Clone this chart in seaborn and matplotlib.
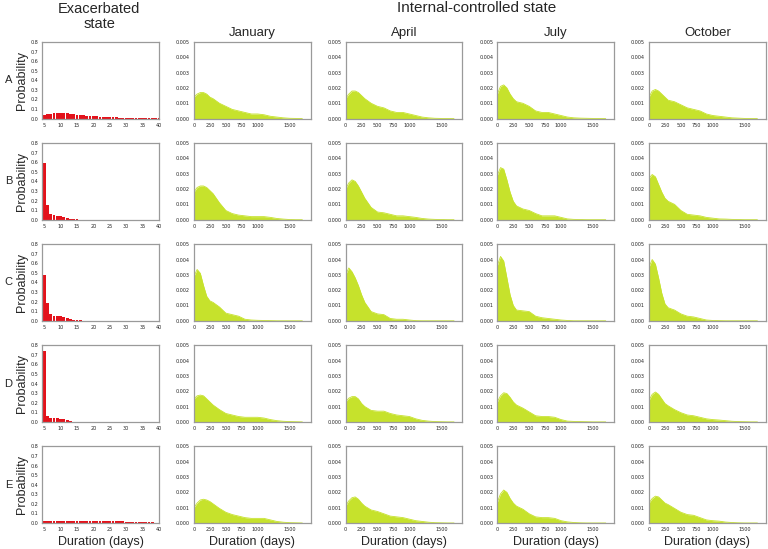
import numpy as np
import pandas as pd
import matplotlib
matplotlib.use('Agg')
import matplotlib.pyplot as plt
import seaborn as sns

sns.set_style('white')
plt.rcParams['font.family'] = ['Liberation Sans', 'DejaVu Sans']

rows = ['A', 'B', 'C', 'D', 'E']
months = ['January', 'April', 'July', 'October']

# exacerbated state: probability of each duration (days)
exa_days = list(range(5, 41))
exa_A = [0.035, 0.045, 0.05, 0.055, 0.06, 0.06, 0.06, 0.055, 0.05, 0.045, 0.04, 0.037,
         0.033, 0.03, 0.028, 0.025, 0.022, 0.02, 0.018, 0.016, 0.014, 0.013, 0.012, 0.011,
         0.01, 0.009, 0.008, 0.007, 0.006, 0.005, 0.004, 0.003, 0.002, 0.002, 0.001, 0.001]
exa_B = [0.59, 0.15, 0.055, 0.045, 0.04, 0.035, 0.03, 0.02, 0.01, 0.005, 0.002, 0.001,
         0, 0, 0, 0, 0, 0, 0, 0, 0, 0, 0, 0, 0, 0, 0, 0, 0, 0, 0, 0, 0, 0, 0, 0]
exa_C = [0.48, 0.19, 0.07, 0.055, 0.045, 0.045, 0.04, 0.03, 0.02, 0.01, 0.005, 0.003,
         0.002, 0.001, 0, 0, 0, 0, 0, 0, 0, 0, 0, 0, 0, 0, 0, 0, 0, 0, 0, 0, 0, 0, 0, 0]
exa_D = [0.74, 0.065, 0.045, 0.04, 0.04, 0.035, 0.03, 0.02, 0.01, 0.003, 0.001, 0,
         0, 0, 0, 0, 0, 0, 0, 0, 0, 0, 0, 0, 0, 0, 0, 0, 0, 0, 0, 0, 0, 0, 0, 0]
exa_E = [0.025, 0.025, 0.025, 0.025, 0.025, 0.025, 0.025, 0.025, 0.025, 0.024, 0.024, 0.024,
         0.023, 0.023, 0.023, 0.022, 0.022, 0.022, 0.021, 0.021, 0.02, 0.019, 0.018, 0.017,
         0.016, 0.015, 0.013, 0.012, 0.011, 0.01, 0.008, 0.007, 0.006, 0.005, 0.004, 0.003]
exa = {'A': exa_A, 'B': exa_B, 'C': exa_C, 'D': exa_D, 'E': exa_E}

# internal-controlled state: density (x 1e-3) read at these durations
grid_days = [0, 50, 100, 150, 200, 250, 300, 400, 500, 600, 700, 800, 900, 1000,
             1100, 1200, 1300, 1400, 1500, 1600, 1700]
dens_A = {
    'January': [1.4, 1.6, 1.7, 1.7, 1.6, 1.4, 1.3, 1.0, 0.8, 0.6, 0.5, 0.4, 0.3, 0.3, 0.25, 0.15, 0.1, 0.05, 0.02, 0.01, 0],
    'April':   [1.3, 1.6, 1.8, 1.8, 1.7, 1.5, 1.3, 1.0, 0.8, 0.7, 0.5, 0.4, 0.4, 0.3, 0.2, 0.1, 0.05, 0.02, 0.01, 0, 0],
    'July':    [1.6, 2.1, 2.2, 2.0, 1.6, 1.3, 1.1, 1.0, 0.8, 0.5, 0.4, 0.4, 0.3, 0.2, 0.1, 0.05, 0.03, 0.02, 0.01, 0, 0],
    'October': [1.4, 1.8, 1.9, 1.8, 1.6, 1.4, 1.2, 1.1, 0.9, 0.7, 0.6, 0.5, 0.3, 0.2, 0.15, 0.1, 0.05, 0.03, 0.01, 0, 0],
}
dens_B = {
    'January': [1.8, 2.1, 2.2, 2.2, 2.1, 1.9, 1.7, 1.1, 0.6, 0.4, 0.3, 0.25, 0.2, 0.2, 0.2, 0.15, 0.08, 0.04, 0.01, 0, 0],
    'April':   [2.0, 2.4, 2.6, 2.5, 2.2, 1.8, 1.4, 0.8, 0.5, 0.45, 0.35, 0.25, 0.25, 0.2, 0.15, 0.08, 0.04, 0.02, 0.01, 0, 0],
    'July':    [2.9, 3.4, 3.3, 2.6, 1.8, 1.2, 0.9, 0.7, 0.6, 0.4, 0.25, 0.25, 0.25, 0.15, 0.05, 0.02, 0.01, 0, 0, 0, 0],
    'October': [2.7, 2.95, 2.8, 2.3, 1.8, 1.4, 1.2, 1.0, 0.6, 0.35, 0.3, 0.25, 0.15, 0.1, 0.05, 0.04, 0.02, 0.01, 0, 0, 0],
}
dens_C = {
    'January': [2.9, 3.35, 3.1, 2.3, 1.6, 1.3, 1.2, 0.9, 0.5, 0.4, 0.3, 0.1, 0.05, 0.03, 0.02, 0.01, 0, 0, 0, 0, 0],
    'April':   [3.0, 3.45, 3.2, 2.8, 2.3, 1.7, 1.2, 0.6, 0.45, 0.4, 0.15, 0.1, 0.1, 0.05, 0.01, 0, 0, 0, 0, 0, 0],
    'July':    [3.6, 4.2, 3.9, 2.8, 1.7, 1.0, 0.7, 0.65, 0.6, 0.3, 0.2, 0.15, 0.1, 0.05, 0.02, 0, 0, 0, 0, 0, 0],
    'October': [3.5, 4.0, 3.7, 2.8, 1.8, 1.1, 0.85, 0.7, 0.45, 0.3, 0.25, 0.15, 0.05, 0.02, 0.01, 0, 0, 0, 0, 0, 0],
}
dens_D = {
    'January': [1.5, 1.7, 1.75, 1.7, 1.5, 1.3, 1.1, 0.8, 0.55, 0.45, 0.35, 0.3, 0.3, 0.3, 0.25, 0.15, 0.08, 0.04, 0.02, 0.01, 0],
    'April':   [1.3, 1.55, 1.65, 1.65, 1.5, 1.2, 1.0, 0.75, 0.7, 0.7, 0.55, 0.45, 0.4, 0.35, 0.2, 0.1, 0.05, 0.02, 0.01, 0, 0],
    'July':    [1.3, 1.7, 1.9, 1.85, 1.6, 1.3, 1.1, 0.9, 0.65, 0.4, 0.35, 0.35, 0.3, 0.15, 0.05, 0.03, 0.02, 0.01, 0, 0, 0],
    'October': [1.4, 1.8, 1.95, 1.8, 1.5, 1.2, 1.05, 0.8, 0.6, 0.45, 0.4, 0.3, 0.2, 0.15, 0.12, 0.08, 0.04, 0.02, 0.01, 0, 0],
}
dens_E = {
    'January': [1.0, 1.3, 1.5, 1.55, 1.5, 1.4, 1.25, 0.95, 0.7, 0.55, 0.45, 0.35, 0.3, 0.3, 0.3, 0.2, 0.1, 0.05, 0.02, 0.01, 0],
    'April':   [1.1, 1.45, 1.65, 1.7, 1.55, 1.3, 1.1, 0.85, 0.75, 0.6, 0.45, 0.4, 0.35, 0.25, 0.15, 0.1, 0.05, 0.02, 0.01, 0, 0],
    'July':    [1.35, 1.9, 2.15, 2.0, 1.6, 1.3, 1.1, 0.9, 0.6, 0.4, 0.35, 0.35, 0.3, 0.15, 0.07, 0.03, 0.01, 0, 0, 0, 0],
    'October': [1.3, 1.6, 1.75, 1.7, 1.5, 1.3, 1.2, 0.95, 0.7, 0.55, 0.5, 0.35, 0.2, 0.15, 0.12, 0.06, 0.03, 0.01, 0, 0, 0],
}
dens = {'A': dens_A, 'B': dens_B, 'C': dens_C, 'D': dens_D, 'E': dens_E}

red = '#e3121b'
green = '#c6e22c'
spine_col = '#9a9a9a'

fig, axes = plt.subplots(5, 5, figsize=(7.68, 5.49), dpi=100)
fig.subplots_adjust(left=0.055, right=0.997, top=0.9235, bottom=0.0474,
                    wspace=0.30, hspace=0.32)

tick_font = dict(family='DejaVu Sans', size=3.5)

for i, r in enumerate(rows):
    ax = axes[i, 0]
    df = pd.DataFrame({'days': exa_days, 'prob': exa[r]})
    sns.barplot(data=df, x='days', y='prob', native_scale=True, color=red,
                saturation=1, linewidth=0, width=0.85, ax=ax)
    ax.set_xlim(4.4, 40)
    ax.set_ylim(0, 0.8)
    ax.set_xticks(range(5, 41, 5))
    ax.set_yticks(np.arange(0, 0.81, 0.1))
    ax.set_yticklabels([f'{v:.1f}' for v in np.arange(0, 0.81, 0.1)])
    ax.set_ylabel('Probability', fontsize=9, labelpad=2)
    ax.set_xlabel('Duration (days)' if i == 4 else '', fontsize=9, labelpad=3)
    fig.text(0.011, (ax.get_position().y0 + ax.get_position().y1) / 2, r,
             fontsize=8, ha='center', va='center')

    for j, m in enumerate(months):
        ax = axes[i, j + 1]
        y = np.array(dens[r][m]) * 1e-3
        sns.lineplot(x=grid_days, y=y, color=green, lw=0.6, ax=ax)
        ax.fill_between(grid_days, y, color=green, lw=0)
        ax.set_xlim(0, 1830)
        ax.set_ylim(0, 0.005)
        ax.set_xticks([0, 250, 500, 750, 1000, 1500])
        ax.set_yticks([0, 0.001, 0.002, 0.003, 0.004, 0.005])
        ax.set_yticklabels([f'{v:.3f}' for v in [0, 0.001, 0.002, 0.003, 0.004, 0.005]])
        ax.set_xlabel('Duration (days)' if i == 4 else '', fontsize=9, labelpad=3)
        ax.set_ylabel('')
        if i == 0:
            ax.set_title(m, fontsize=9.5, pad=4)

for ax in axes.flat:
    for s in ax.spines.values():
        s.set_color(spine_col)
        s.set_linewidth(0.9)
    ax.tick_params(axis='both', length=1.5, width=0.5, color=spine_col, pad=1.5)
    for lab in ax.get_xticklabels() + ax.get_yticklabels():
        lab.set_fontproperties(tick_font)

fig.text(0.129, 0.984, 'Exacerbated', fontsize=10.5, ha='center', va='center')
fig.text(0.129, 0.956, 'state', fontsize=10.5, ha='center', va='center')
fig.text(0.62, 0.985, 'Internal-controlled state', fontsize=11, ha='center', va='center')

fig.savefig('out.png', dpi=100)
